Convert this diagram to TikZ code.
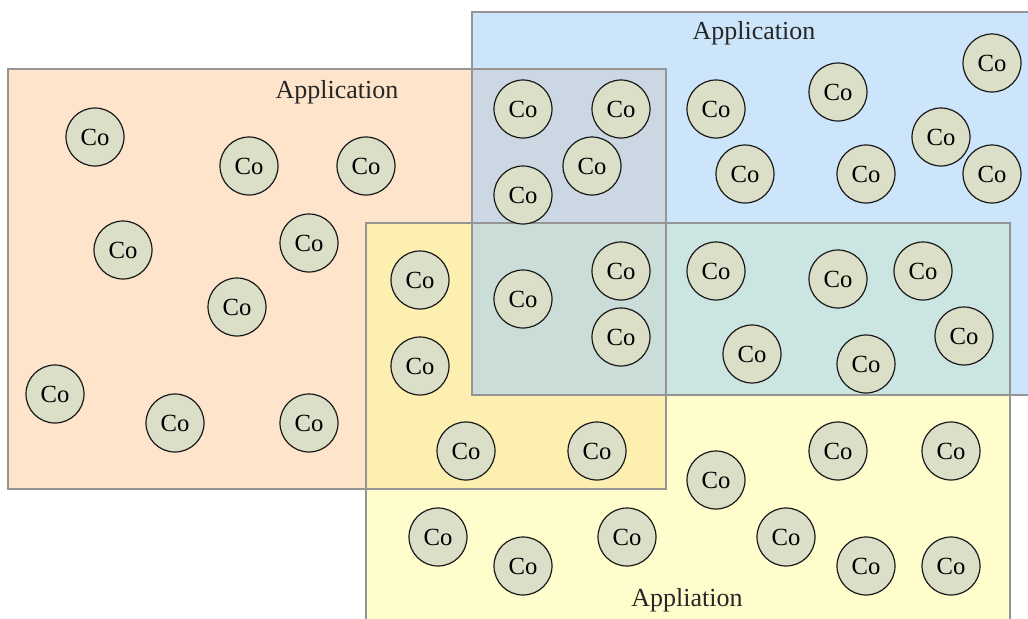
\documentclass[tikz,border=0pt]{standalone}
\usepackage{fontspec}
\setmainfont{Liberation Serif}
\definecolor{orangeF}{HTML}{FDE4CB}
\definecolor{blueF}{HTML}{CCE5FB}
\definecolor{yellowF}{HTML}{FFFDCC}
\definecolor{boF}{HTML}{CBD7E2}
\definecolor{yoF}{HTML}{FDEFB0}
\definecolor{byF}{HTML}{CBE5E3}
\definecolor{allF}{HTML}{CBDDD8}
\definecolor{edgeC}{HTML}{959595}
\definecolor{coF}{HTML}{DCDFC8}
\begin{document}
\begin{tikzpicture}[x=0.75pt,y=-0.75pt,
  co/.style={circle,draw=black!90,line width=0.9pt,fill=coF,minimum size=43.5pt,inner sep=0pt,font=\fontsize{18.5}{18.5}\selectfont},
  applabel/.style={font=\fontsize{19.5}{20}\selectfont,text=black!85},
  frame/.style={draw=edgeC,line width=0.8pt}]
\useasboundingbox (0,0) rectangle (1028,618);
\fill[white] (0,0) rectangle (1028,618);
% application areas
\def\orangeR{(8,69) rectangle (666,489)}
\def\blueR{(472,12) rectangle (1034,395)}
\def\yellowR{(366,223) rectangle (1010,624)}
\fill[blueF] \blueR;
\fill[orangeF] \orangeR;
\fill[yellowF] \yellowR;
\begin{scope}\clip \blueR; \fill[boF] \orangeR; \end{scope}
\begin{scope}\clip \yellowR; \fill[yoF] \orangeR; \end{scope}
\begin{scope}\clip \yellowR; \fill[byF] \blueR; \end{scope}
\begin{scope}\clip \yellowR; \clip \blueR; \fill[allF] \orangeR; \end{scope}
\draw[frame] \blueR;
\draw[frame] \orangeR;
\draw[frame] \yellowR;
% labels
\node[applabel] (la) at (337,92) {Application};
\node[applabel] (lb) at (754,33) {Application};
\node[applabel] (lc) at (687,600) {Appliation};
% components
\foreach \n/\x/\y in {
  c1/95/137, c2/249/166, c3/366/166, c4/123/250, c5/309/243, c6/237/307,
  c7/55/394, c8/175/423, c9/309/423,
  c10/523/109, c11/621/109, c12/592/166, c13/523/195,
  c14/716/109, c15/838/92, c16/992/63, c17/941/137, c18/745/174, c19/866/174, c20/992/174,
  c21/420/280, c22/523/299, c23/621/271, c24/621/337, c25/716/271, c26/838/279,
  c27/923/271, c28/964/336, c29/752/354, c30/866/364,
  c31/420/366, c32/466/451, c33/597/451,
  c34/716/480, c35/838/451, c36/951/451, c37/438/537, c38/523/566, c39/627/537,
  c40/786/537, c41/866/566, c42/951/566}
  \node[co] (\n) at (\x,\y) {Co};
\end{tikzpicture}
\end{document}
